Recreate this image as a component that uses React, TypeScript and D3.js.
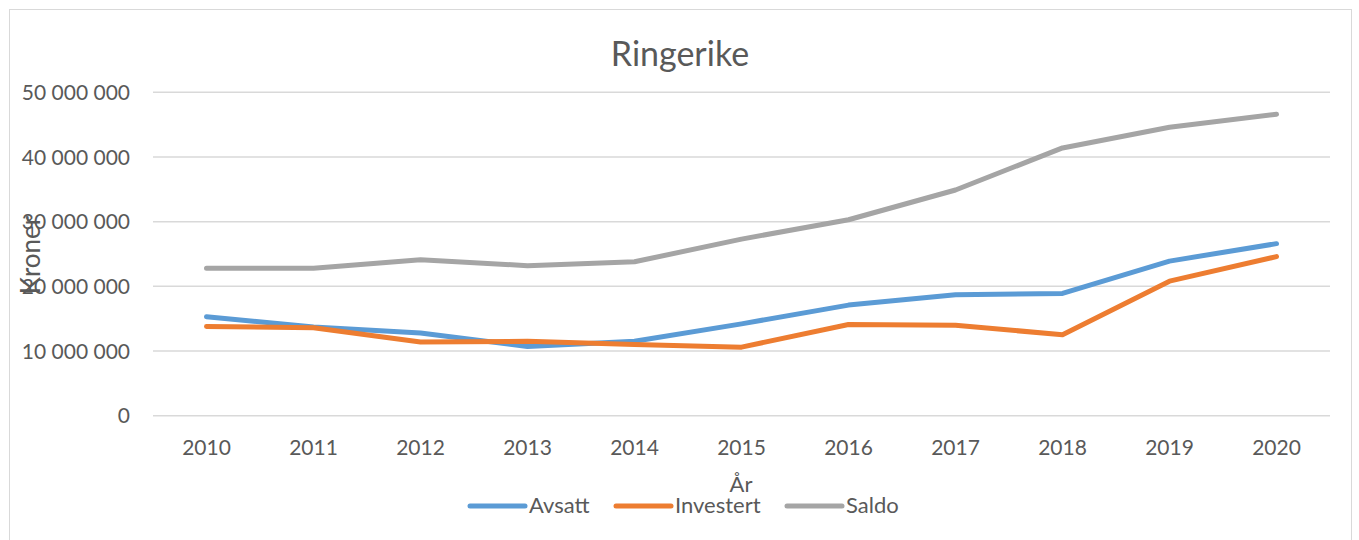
import { useEffect, useRef } from "react"
import * as d3 from "d3"

const years = ["2010", "2011", "2012", "2013", "2014", "2015", "2016", "2017", "2018", "2019", "2020"]
const avsatt = [15.3, 13.7, 12.8, 10.7, 11.5, 14.2, 17.1, 18.7, 18.9, 23.9, 26.6].map((v) => v * 1e6)
const investert = [13.8, 13.6, 11.4, 11.5, 11.0, 10.6, 14.1, 14.0, 12.5, 20.8, 24.6].map((v) => v * 1e6)
const saldo = [22.8, 22.8, 24.1, 23.2, 23.8, 27.3, 30.3, 34.9, 41.4, 44.6, 46.6].map((v) => v * 1e6)
const yTicks = [0, 10e6, 20e6, 30e6, 40e6, 50e6]

const series = [
  { name: "Avsatt", values: avsatt, color: "#5B9BD5" },
  { name: "Investert", values: investert, color: "#ED7D31" },
  { name: "Saldo", values: saldo, color: "#A5A5A5" },
]

const WIDTH = 1359
const HEIGHT = 540
const FONT = "Lato, 'Open Sans', sans-serif"
const TEXT = "#595959"

export default function App() {
  const svgRef = useRef<SVGSVGElement>(null)

  useEffect(() => {
    const svg = d3.select(svgRef.current)
    svg.selectAll("*").remove()

    const plot = { left: 153, right: 1330, top: 92.3, bottom: 415.7 }

    const x = d3.scaleBand<string>().domain(years).range([plot.left, plot.right])
    const y = d3.scaleLinear().domain([0, 50e6]).range([plot.bottom, plot.top])
    const cx = (yr: string) => (x(yr) as number) + x.bandwidth() / 2

    const nb = d3.formatLocale({ thousands: " ", grouping: [3], decimal: ",", currency: ["", " kr"] })
    const fmt = nb.format(",")

    // chart frame
    svg.append("rect")
      .attr("x", 9.5).attr("y", 9.5)
      .attr("width", 1342).attr("height", 560)
      .attr("fill", "#fff").attr("stroke", "#D9D9D9").attr("stroke-width", 1)

    // title
    svg.append("text")
      .attr("x", 680).attr("y", 66)
      .attr("text-anchor", "middle")
      .attr("font-family", FONT).attr("font-size", 34)
      .attr("fill", TEXT)
      .text("Ringerike")

    // gridlines + y labels
    const grid = svg.append("g")
    yTicks.forEach((t) => {
      grid.append("line")
        .attr("x1", plot.left).attr("x2", plot.right)
        .attr("y1", y(t)).attr("y2", y(t))
        .attr("stroke", "#D9D9D9").attr("stroke-width", 1.5)
      grid.append("text")
        .attr("x", 130).attr("y", y(t))
        .attr("dy", "0.36em")
        .attr("text-anchor", "end")
        .attr("font-family", FONT).attr("font-size", 21)
        .attr("fill", TEXT)
        .text(fmt(t))
    })

    // x labels
    years.forEach((yr) => {
      svg.append("text")
        .attr("x", cx(yr)).attr("y", 455)
        .attr("text-anchor", "middle")
        .attr("font-family", FONT).attr("font-size", 21)
        .attr("fill", TEXT)
        .text(yr)
    })

    // axis titles
    svg.append("text")
      .attr("x", 741).attr("y", 492)
      .attr("text-anchor", "middle")
      .attr("font-family", FONT).attr("font-size", 22)
      .attr("fill", TEXT)
      .text("År")

    svg.append("text")
      .attr("transform", "translate(40,255) rotate(-90)")
      .attr("text-anchor", "middle")
      .attr("font-family", FONT).attr("font-size", 26)
      .attr("fill", TEXT)
      .text("Kroner")

    // lines
    const line = d3.line<number>()
      .x((_, i) => cx(years[i]))
      .y((d) => y(d))

    series.forEach((s) => {
      svg.append("path")
        .datum(s.values)
        .attr("fill", "none")
        .attr("stroke", s.color)
        .attr("stroke-width", 5)
        .attr("stroke-linecap", "round")
        .attr("stroke-linejoin", "round")
        .attr("d", line)
    })

    // legend
    const legendX = [470, 616, 787]
    series.forEach((s, i) => {
      const lx = legendX[i]
      svg.append("line")
        .attr("x1", lx).attr("x2", lx + 55)
        .attr("y1", 506).attr("y2", 506)
        .attr("stroke", s.color).attr("stroke-width", 5)
        .attr("stroke-linecap", "round")
      svg.append("text")
        .attr("x", lx + 59).attr("y", 513)
        .attr("font-family", FONT).attr("font-size", 22)
        .attr("fill", TEXT)
        .text(s.name)
    })
  }, [])

  return (
    <svg
      ref={svgRef}
      width={WIDTH}
      height={HEIGHT}
      style={{ position: "absolute", left: 0, top: 0, background: "#fff" }}
    />
  )
}
